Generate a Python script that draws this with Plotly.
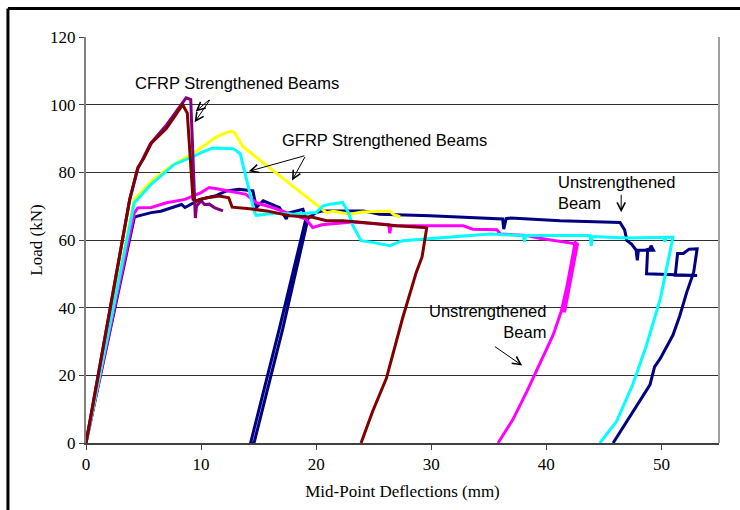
import plotly.graph_objects as go

# ---------------- data (mm, kN) ----------------
cfrp1_x = [0, 3.8, 4.5, 5.6, 7.0, 8.0, 8.7, 9.1, 9.4, 9.5, 9.6, 10.0, 10.3, 10.7, 11.2, 11.9]
cfrp1_y = [0, 72, 81, 88.5, 94, 98.5, 102, 101.5, 72, 66.5, 70, 71.6, 70.5, 70.6, 69.5, 68.6]

cfrp2_x = [0, 3.8, 4.5, 5.0, 5.7, 7.0, 8.4, 8.8, 9.3, 9.6, 10.5, 11.6, 12.4, 12.7, 14.0, 15.7, 17.7, 19.7,
           20.9, 22.3, 24.1, 25.5, 27.0, 29.4, 29.6, 29.2, 28.7, 27.5, 26.1, 24.9, 23.9]
cfrp2_y = [0, 72, 81.4, 84, 88.7, 93, 100, 97.5, 72, 71.6, 72.5, 73, 72.5, 69.7, 69.3, 68.6, 67.2, 66.7,
           65.7, 65.7, 65.2, 64.7, 64.2, 63.7, 63.5, 55, 50.5, 36.8, 19.1, 9.3, 0]

gfrp1_x = [0, 4.2, 5.67, 7.4, 9.4, 11.2, 12.0, 12.6, 12.9, 13.6, 17.0, 20.9, 21.5, 22.9, 24.0, 26.4, 26.7, 27.3]
gfrp1_y = [0, 72, 77.4, 81.9, 85.8, 90.2, 91.5, 92.1, 91.8, 87.7, 78.5, 68.1, 68.5, 67.6, 68.3, 68.6, 67.6, 66.8]

gfrp2_x = [0, 4.2, 5.67, 7.7, 9.4, 10.0, 11.0, 12.8, 13.4, 14.65, 14.8, 16.5, 18.0, 20.0, 20.6, 21.2, 22.3, 22.8,
           23.2, 23.9, 24.9, 26.4, 27.5, 29.6, 35.1, 38.0, 38.1, 38.2, 43.8, 43.9, 44.0, 47.0, 50.2, 50.3, 50.4,
           51.0, 49.9, 48.7, 47.5, 46.1, 44.65]
gfrp2_y = [0, 71, 76.5, 82.4, 84.8, 85.8, 87.2, 87, 85.5, 68.1, 67.3, 68, 67.6, 68.1, 70.1, 70.6, 71.1, 68.1,
           64.2, 59.8, 59.3, 58.3, 59.8, 60.3, 61.8, 61.3, 59.5, 61.3, 61.3, 58.3, 61, 60.6, 60.8, 59.5, 60.8,
           60.8, 42.6, 28.9, 17.2, 6.4, 0]

unst1_x = [0, 4.2, 4.5, 5.67, 7.0, 8.6, 10.0, 10.7, 11.6, 13.9, 14.8, 16.2, 17.5, 19.1, 19.7, 20.5, 21.2, 23.2,
           25.5, 26.3, 26.4, 26.5, 30.0, 32.8, 33.6, 35.7, 36.0, 38.3, 39.4, 41.5, 42.3, 42.6, 41.3, 41.6, 42.7,
           42.5, 41.5, 40.6, 39.4, 38.3, 37.1, 35.8]
unst1_y = [0, 68, 69.5, 69.6, 71, 72, 74, 75.5, 75, 73.5, 71, 69.6, 68, 66.2, 63.7, 64.5, 64.7, 65.3,
           64.7, 64.5, 62, 64.3, 64.2, 64.2, 63.2, 63, 61.8, 61.3, 60.5, 59.5, 59, 58.5, 39, 39, 58.8,
           59.3, 41, 32, 23, 15.2, 7, 0]

unst2_x = [0, 4.2, 4.4, 5.67, 6.5, 7.4, 8.3, 8.6, 9.15, 9.9, 11.2, 12.2, 13.3, 14.5, 14.8, 15.4, 16.5, 16.8,
           17.4, 17.6, 18.85, 19.1, 16.8, 14.3, 14.6, 17.1, 19.3, 20.0, 20.6, 24.1, 25.5, 29.9, 36.2, 36.3, 36.5,
           36.9, 41.2, 45.5, 46.4, 46.8, 47.0, 47.4, 47.8, 47.9, 48.0, 48.6, 49.0, 49.1, 49.3, 48.8, 48.7, 53.1,
           51.2, 51.4, 51.9, 52.4, 53.1, 52.8, 52.2, 51.6, 51.0, 49.9, 49.4, 49.0, 48.1, 47.0, 45.8]
unst2_y = [0, 66.7, 67, 68.1, 68.5, 69.6, 70.5, 69.6, 70.6, 72, 73, 74.5, 75, 74.5, 69.6, 71.6, 70, 69.6,
           66.2, 68, 69.1, 66.2, 33.8, 0, 0, 33.8, 66.5, 68.1, 68.6, 68.6, 67.6, 67.2, 66.2, 63.2, 66.3,
           66.5, 65.7, 65.4, 65.2, 63, 59.8, 58.8, 57, 54, 57, 57, 57.4, 58.3, 57, 57, 50, 49.5,
           49.6, 56, 56, 57.3, 57.4, 50.5, 44.6, 37.7, 31.9, 25, 22.5, 17.2, 12.3, 6.4, 0]

x_ticks = [0, 10, 20, 30, 40, 50]
y_ticks = [0, 20, 40, 60, 80, 100, 120]

series = [
    (unst2_x, unst2_y, "#000080"),
    (unst1_x, unst1_y, "#FF00FF"),
    (gfrp1_x, gfrp1_y, "#FFFF00"),
    (gfrp2_x, gfrp2_y, "#00FFFF"),
    (cfrp1_x, cfrp1_y, "#800080"),
    (cfrp2_x, cfrp2_y, "#800000"),
]

fig = go.Figure()
for xs, ys, c in series:
    fig.add_trace(go.Scatter(x=xs, y=ys, mode="lines",
                             line=dict(color=c, width=3), hoverinfo="skip"))

serif = "Liberation Serif, Times New Roman, serif"
sans = "Liberation Sans, Arial, sans-serif"

fig.update_layout(
    width=740, height=510,
    margin=dict(l=86, r=21, t=37, b=65),
    paper_bgcolor="white", plot_bgcolor="white",
    showlegend=False,
    xaxis=dict(range=[0, 55], tickvals=x_ticks, ticks="outside", ticklen=5, tickcolor="#404040",
               showgrid=False, zeroline=False, showline=True, linecolor="#404040", linewidth=2,
               tickfont=dict(family=serif, size=17, color="black"),
               title=dict(text="Mid-Point Deflections (mm)", font=dict(family=serif, size=17, color="black"),
                          standoff=12)),
    yaxis=dict(range=[0, 120], tickvals=y_ticks, ticks="outside", ticklen=5, tickcolor="#404040",
               showgrid=True, gridcolor="#303030", gridwidth=1, zeroline=False,
               showline=True, linecolor="#808080", linewidth=2,
               tickfont=dict(family=serif, size=17, color="black"),
               title=dict(text="Load (kN)", font=dict(family=serif, size=17, color="black"), standoff=3)),
    shapes=[
        dict(type="line", xref="paper", yref="paper", x0=1, x1=1, y0=0, y1=1,
             line=dict(color="#A0A0A0", width=2)),
        dict(type="line", xref="paper", yref="paper", x0=-0.1233, x1=1.05, y0=1.0699, y1=1.0699,
             line=dict(color="black", width=3)),
        dict(type="line", xref="paper", yref="paper", x0=-0.1233, x1=-0.1233, y0=-0.2, y1=1.0699,
             line=dict(color="black", width=3)),
    ],
)

ann_font = dict(family=sans, size=16.5, color="black")
texts = [
    dict(x=13.1, y=106.5, text="CFRP Strengthened Beams", xanchor="center"),
    dict(x=25.9, y=89.7, text="GFRP Strengthened Beams", xanchor="center"),
    dict(x=40.86, y=74.0, text="Unstrengthened<br>Beam", xanchor="left", align="left"),
    dict(x=40.16, y=35.9, text="Unstrengthened<br>Beam", xanchor="right", align="right"),
]
for t in texts:
    fig.add_annotation(xref="x", yref="y", showarrow=False, font=ann_font, yanchor="middle", **t)

arrows = [
    (9.53, 98.0, 10.84, 101.8),
    (9.44, 94.8, 10.84, 101.8),
    (14.14, 80.3, 19.1, 85.0),
    (17.9, 77.6, 19.1, 85.0),
    (46.5, 68.2, 46.5, 73.8),
    (37.9, 22.9, 35.4, 28.8),
]
for hx, hy, tx, ty in arrows:
    fig.add_annotation(x=hx, y=hy, ax=tx, ay=ty, xref="x", yref="y", axref="x", ayref="y",
                       text="", showarrow=True, arrowhead=5, arrowsize=1.6, arrowwidth=1,
                       arrowcolor="black")

fig.write_html("out.html", config={"displayModeBar": False},
               post_script="document.body.style.margin='0';")
